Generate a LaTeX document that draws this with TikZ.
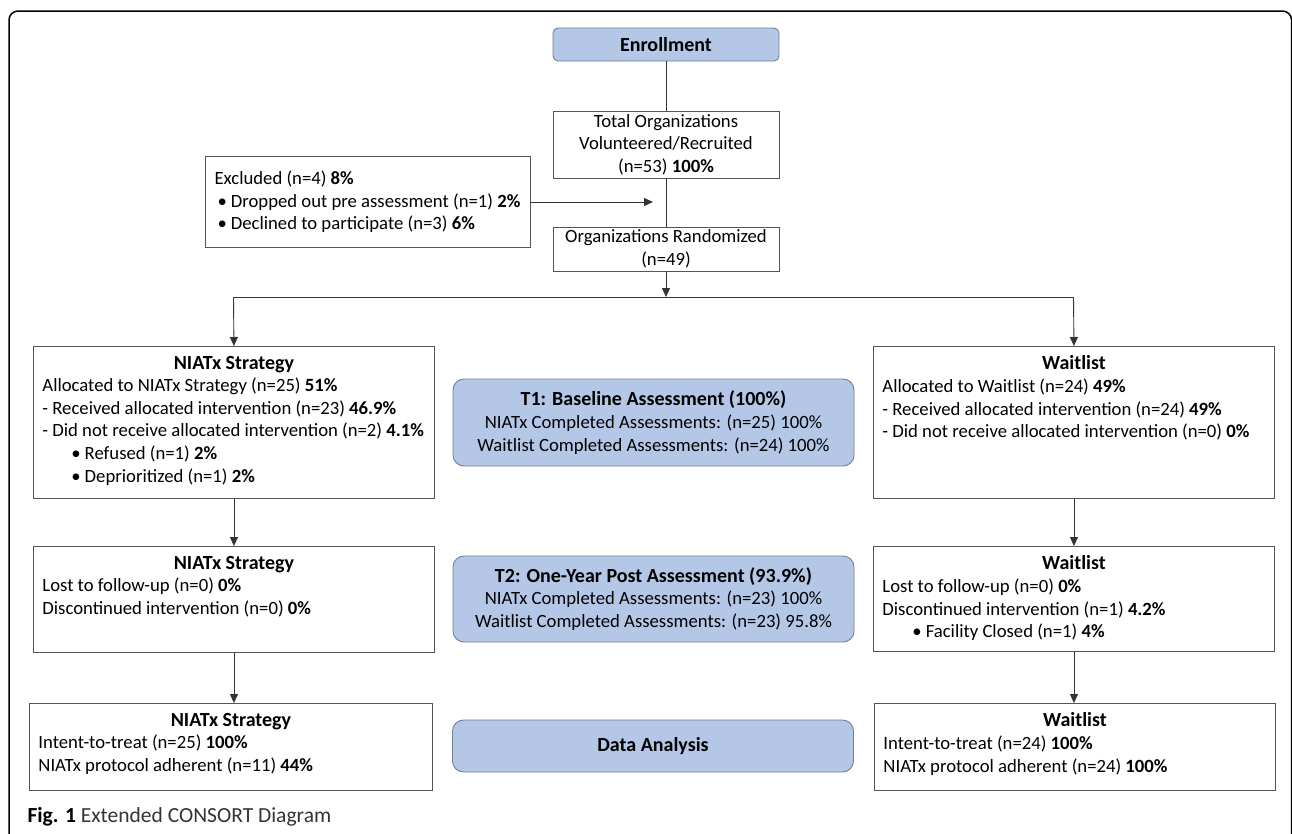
\documentclass[tikz,border=0pt]{standalone}
\usepackage{fontspec}
\setmainfont{Carlito}
\usetikzlibrary{arrows.meta,calc,positioning}
\definecolor{fillblue}{RGB}{180,199,231}
\definecolor{edgeblue}{RGB}{112,128,150}
\definecolor{boxline}{RGB}{85,85,85}
\newcommand{\bodyfont}{\fontsize{18.7}{22.6}\selectfont}
\newcommand{\headfont}{\fontsize{20}{22.6}\selectfont\bfseries}
\newcommand{\bitem}[1]{\hspace*{#1}\textbullet\hspace{4pt}}

\begin{document}
\begin{tikzpicture}[x=1pt,y=-1pt,
  arm/.style={draw=boxline,line width=0.9pt,anchor=north west,inner xsep=9pt,inner ysep=0pt,font=\bodyfont},
  topbox/.style={draw=boxline,line width=0.9pt,minimum width=226pt,align=center,font=\bodyfont,inner sep=0pt},
  stage/.style={draw=edgeblue,fill=fillblue,line width=0.9pt,rounded corners=11pt,minimum width=401pt,align=center,font=\bodyfont},
  flow/.style={draw=black!80,line width=0.9pt},
  arr/.style={flow,-{Triangle[length=9pt,width=8pt]}}]
  \clip (0,0) rectangle (1292,833);
  \draw[line width=1.5pt,rounded corners=9pt] (9,860) -- (9,11) -- (1291.5,11) -- (1291.5,860);

  % enrollment column
  \node[stage,rounded corners=5pt,minimum width=226pt,minimum height=33pt] (enroll) at (666,44.5) {\headfont Enrollment};
  \node[topbox,minimum height=67pt] (total) at (666,144.5) {Total Organizations\\Volunteered/Recruited\\(n=53) \textbf{100\%}};
  \node[topbox,minimum height=44pt] (rand) at (666,249) {Organizations Randomized\\(n=49)};
  \node[draw=boxline,line width=0.9pt,minimum width=325pt,minimum height=91pt,align=left,font=\bodyfont] (excl) at (367.5,202)
    {Excluded (n=4) \textbf{8\%}\\
     \bitem{3pt}Dropped out pre assessment (n=1) \textbf{2\%}\\
     \bitem{3pt}Declined to participate (n=3) \textbf{6\%}};
  \coordinate (exclend) at (653,202);
  \coordinate (split) at (666,297);
  \coordinate (splitL) at (233.5,297); \coordinate (splitR) at (1073.5,297);

  % arms
  \node[arm] (niat1) at (33,346) {\parbox[c][152pt][t]{383pt}{\vspace*{9.5pt}\centering{\headfont NIATx Strategy}\par\raggedright
    Allocated to NIATx Strategy (n=25) \textbf{51\%}\\
    - Received allocated intervention (n=23) \textbf{46.9\%}\\
    - Did not receive allocated intervention (n=2) \textbf{4.1\%}\\
    \bitem{29pt}Refused (n=1) \textbf{2\%}\\
    \bitem{29pt}Deprioritized (n=1) \textbf{2\%}}};
  \node[arm] (wait1) at (873,346) {\parbox[c][152pt][t]{383pt}{\vspace*{9.5pt}\centering{\headfont Waitlist}\par\raggedright
    Allocated to Waitlist (n=24) \textbf{49\%}\\
    - Received allocated intervention (n=24) \textbf{49\%}\\
    - Did not receive allocated intervention (n=0) \textbf{0\%}}};
  \node[arm] (niat2) at (33,546) {\parbox[c][106pt][t]{383pt}{\vspace*{9.5pt}\centering{\headfont NIATx Strategy}\par\raggedright
    Lost to follow-up (n=0) \textbf{0\%}\\
    Discontinued intervention (n=0) \textbf{0\%}}};
  \node[arm] (wait2) at (873,546) {\parbox[c][105pt][t]{383pt}{\vspace*{9.5pt}\centering{\headfont Waitlist}\par\raggedright
    Lost to follow-up (n=0) \textbf{0\%}\\
    Discontinued intervention (n=1) \textbf{4.2\%}\\
    \bitem{30pt}Facility Closed (n=1) \textbf{4\%}}};
  \node[arm] (niat3) at (29,703) {\parbox[c][87pt][t]{385pt}{\vspace*{9.5pt}\centering{\headfont NIATx Strategy}\par\raggedright
    Intent-to-treat (n=25) \textbf{100\%}\\
    NIATx protocol adherent (n=11) \textbf{44\%}}};
  \node[arm] (wait3) at (874,703) {\parbox[c][87pt][t]{383pt}{\vspace*{9.5pt}\centering{\headfont Waitlist}\par\raggedright
    Intent-to-treat (n=24) \textbf{100\%}\\
    NIATx protocol adherent (n=24) \textbf{100\%}}};

  % assessment stages
  \node[stage,minimum height=87pt] (tone) at (653.5,422.5) {{\headfont T1: Baseline Assessment (100\%)}\\
    NIATx Completed Assessments: (n=25) 100\%\\Waitlist Completed Assessments: (n=24) 100\%};
  \node[stage,minimum height=86pt] (ttwo) at (653.5,599) {{\headfont T2: One-Year Post Assessment (93.9\%)}\\
    NIATx Completed Assessments: (n=23) 100\%\\Waitlist Completed Assessments: (n=23) 95.8\%};
  \node[stage,minimum height=52pt] (data) at (653,746) {\headfont Data Analysis};

  \node[anchor=west,font=\fontsize{21.5}{24}\selectfont] (caption) at (24,817) {\textbf{Fig. 1} \textcolor{black!80}{Extended CONSORT Diagram}};

  % connectors
  \draw[flow] (enroll) -- (total);
  \draw[flow] (total) -- (rand);
  \draw[arr] (excl.east) -- (exclend);
  \draw[arr] (rand) -- (split);
  \draw[flow] (splitL) -- (splitR);
  \draw[arr] (splitL) -- (niat1.north);
  \draw[arr] (splitR) -- (wait1.north);
  \draw[arr] (niat1) -- (niat2);
  \draw[arr] (niat2.south) -- (niat2.south |- niat3.north);
  \draw[arr] (wait1) -- (wait2);
  \draw[arr] (wait2.south) -- (wait2.south |- wait3.north);
\end{tikzpicture}
\end{document}
